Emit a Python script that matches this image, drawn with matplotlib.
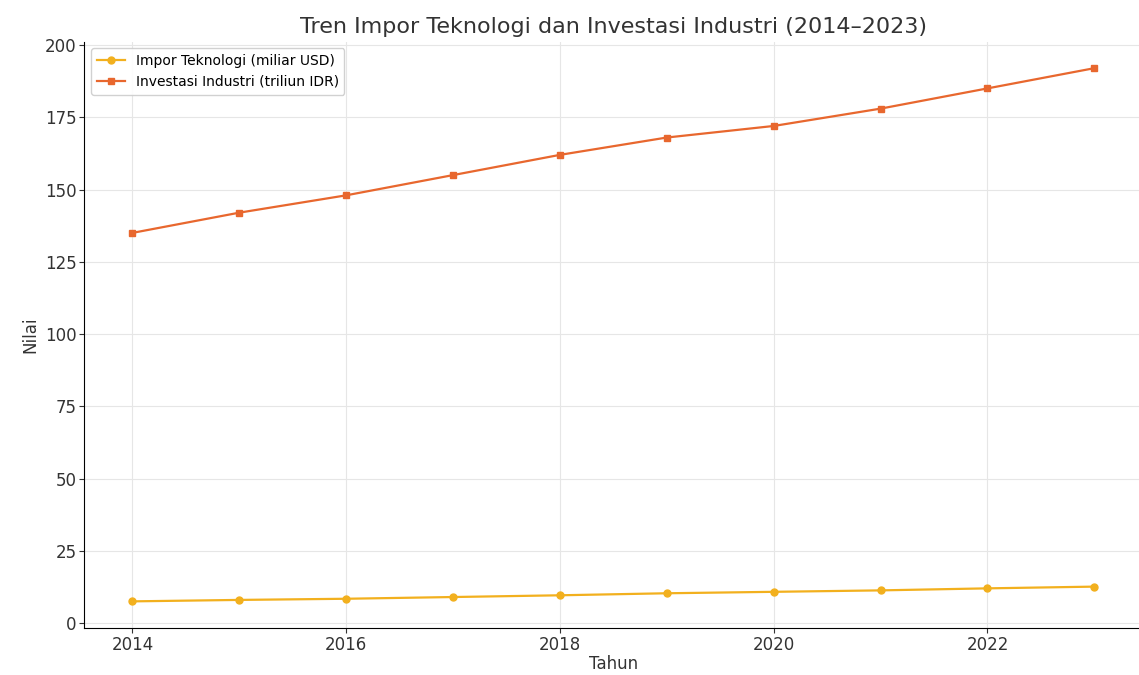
import matplotlib
matplotlib.use("Agg")
import matplotlib.pyplot as plt

years = [2014, 2015, 2016, 2017, 2018, 2019, 2020, 2021, 2022, 2023]
impor_teknologi = [7.5, 8.0, 8.4, 9.0, 9.6, 10.3, 10.8, 11.3, 12.0, 12.6]
investasi_industri = [135, 142, 148, 155, 162, 168, 172, 178, 185, 192]

fig, ax = plt.subplots(figsize=(11.39, 6.75), dpi=100)

ax.plot(years, impor_teknologi, marker='o', color='#f2b01e', linewidth=1.6,
        markersize=5, label='Impor Teknologi (miliar USD)')
ax.plot(years, investasi_industri, marker='s', color='#e8672e', linewidth=1.6,
        markersize=5, label='Investasi Industri (triliun IDR)')

ax.set_title('Tren Impor Teknologi dan Investasi Industri (2014–2023)',
             fontsize=16, color='#333333', pad=6)
ax.set_xlabel('Tahun', fontsize=12, color='#333333', labelpad=1)
ax.set_ylabel('Nilai', fontsize=12, color='#333333')
ax.tick_params(labelsize=12, colors='#333333', pad=2)
ax.grid(True, color='#e6e6e6', linewidth=0.8)
ax.set_axisbelow(True)
for side in ['top', 'right']:
    ax.spines[side].set_visible(False)
ax.legend(loc='upper left', fontsize=10, framealpha=0.9)

fig.subplots_adjust(left=0.074, right=1.003, top=0.9385, bottom=0.0696)
fig.savefig('out.png', dpi=100)
